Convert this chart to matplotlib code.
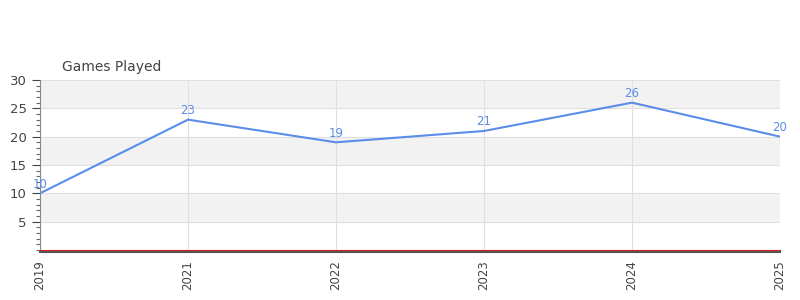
import matplotlib
matplotlib.use("Agg")
import matplotlib.pyplot as plt
from matplotlib.ticker import MultipleLocator

years = ["2019", "2021", "2022", "2023", "2024", "2025"]
games = [10, 23, 19, 21, 26, 20]

line_color = "#5b8de8"
text_color = "#444444"

fig = plt.figure(figsize=(8, 3), dpi=100)
ax = fig.add_axes([0.05, 0.1667, 0.925, 0.5667])

for s in ["top", "right"]:
    ax.spines[s].set_visible(False)
ax.spines["left"].set_color("#888888")
ax.spines["bottom"].set_color("#555555")
ax.spines["bottom"].set_linewidth(1.5)
ax.spines["bottom"].set_position(("outward", 1.2))

# alternating horizontal bands
for lo in range(0, 30, 5):
    if (lo // 5) % 2 == 1:
        ax.axhspan(lo, lo + 5, color="#f2f2f2", zorder=0, lw=0)

x = list(range(len(years)))
ax.plot(x, games, color=line_color, linewidth=1.5, zorder=3)
for xi, v in zip(x, games):
    ax.annotate(str(v), (xi, v), xytext=(0, 2), textcoords="offset points",
                ha="center", va="bottom", fontsize=8.5, color=line_color)

ax.axhline(0, color="#d62020", linewidth=0.8, zorder=4, clip_on=False)

ax.set_xlim(0, len(years) - 1)
ax.set_ylim(0, 30)
ax.set_xticks(x)
ax.set_xticklabels(years, rotation=90, fontsize=8.5, color=text_color)
ax.set_yticks([5, 10, 15, 20, 25, 30])
ax.yaxis.set_minor_locator(MultipleLocator(1))
ax.tick_params(axis="y", labelsize=9.5, colors=text_color, length=6, width=0.8)
ax.tick_params(axis="y", which="minor", length=3, width=0.8, colors="#666666")
ax.tick_params(axis="x", length=0, pad=6, colors=text_color)
ax.grid(True, color="#e0e0e0", linewidth=0.8, zorder=1)
ax.set_axisbelow(True)

fig.text(0.0775, 0.753, "Games Played", fontsize=10, color=text_color, ha="left", va="bottom")

fig.savefig("out.png", dpi=100)
